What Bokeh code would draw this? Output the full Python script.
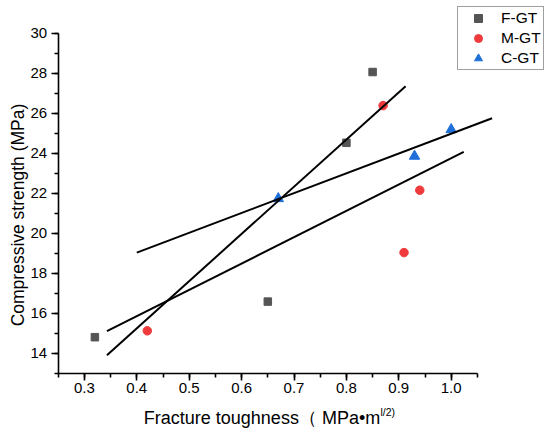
import math
from bokeh.plotting import figure
from bokeh.models import (Range1d, SingleIntervalTicker, NumeralTickFormatter,
                          Legend, LegendItem, Label)
from bokeh.embed import file_html
from bokeh.resources import INLINE

# ---- data ----
f_x = [0.32, 0.65, 0.80, 0.85]
f_y = [14.80, 16.58, 24.52, 28.06]
m_x = [0.42, 0.87, 0.91, 0.94]
m_y = [15.12, 26.38, 19.03, 22.15]
c_x = [0.67, 0.93, 1.00]
c_y = [21.73, 23.85, 25.18]

# fitted straight lines (start/end as drawn in the reference)
fit_x0 = [0.343, 0.343, 0.400]
fit_y0 = [13.90, 15.10, 19.03]
fit_x1 = [0.913, 1.024, 1.078]
fit_y1 = [27.35, 24.07, 25.75]

series_names = ["F-GT", "M-GT", "C-GT"]
x_title = "Fracture toughness（ MPa•m"
x_title_sup = "l/2)"
y_title = "Compressive strength (MPa)"

x_lo, x_hi = 0.25, 1.05
y_lo, y_hi = 13, 30

FONT = "Liberation Sans"
W, H = 550, 435
# plot-area geometry (pixels): axis corner and scale
ax_left, ax_bottom = 57.7, 372.7
px_per_x = 524.0
px_per_y = 20.0

p = figure(width=W, height=H, output_backend="svg", toolbar_location=None,
           x_range=Range1d(x_lo - ax_left / px_per_x,
                           x_lo + (W - ax_left) / px_per_x),
           y_range=Range1d(y_lo - (H - ax_bottom) / px_per_y,
                           y_lo + ax_bottom / px_per_y),
           min_border=0)
p.outline_line_color = None
p.xgrid.visible = False
p.ygrid.visible = False
p.background_fill_color = "white"
p.border_fill_color = "white"

p.xaxis.fixed_location = y_lo
p.yaxis.fixed_location = x_lo
p.xaxis.bounds = (x_lo - 1e-4, x_hi + 1e-4)
p.yaxis.bounds = (y_lo - 1e-4, y_hi + 1e-4)

p.xaxis.ticker = SingleIntervalTicker(interval=0.1, num_minor_ticks=2)
p.yaxis.ticker = SingleIntervalTicker(interval=2, num_minor_ticks=2)
p.xaxis.formatter = NumeralTickFormatter(format="0.0")
p.yaxis.formatter = NumeralTickFormatter(format="0")
for ax in (p.xaxis, p.yaxis):
    ax.axis_line_width = 1.6
    ax.axis_line_color = "black"
    ax.major_tick_line_width = 1.6
    ax.minor_tick_line_width = 1.6
    ax.major_tick_line_color = "black"
    ax.minor_tick_line_color = "black"
    ax.major_tick_in = 0
    ax.major_tick_out = 7
    ax.minor_tick_in = 0
    ax.minor_tick_out = 4
    ax.major_label_text_font = FONT
    ax.major_label_text_font_size = "15px"
    ax.major_label_text_color = "black"
p.xaxis.major_label_standoff = 3
p.yaxis.major_label_standoff = 4

r_f = p.scatter(f_x, f_y, marker="square", size=7.5, fill_color="#555555",
                line_color="#555555")
r_m = p.scatter(m_x, m_y, marker="circle", size=8.5, fill_color="#ee3a3c",
                line_color="#ee3a3c")
r_c = p.scatter(c_x, c_y, marker="triangle", size=10.5, fill_color="#1f6fd9",
                line_color="#1f6fd9")

p.segment(x0=fit_x0, y0=fit_y0, x1=fit_x1, y1=fit_y1, line_color="black",
          line_width=2)

legend = Legend(items=[LegendItem(label=series_names[0], renderers=[r_f]),
                       LegendItem(label=series_names[1], renderers=[r_m]),
                       LegendItem(label=series_names[2], renderers=[r_c])],
                location=(457, 365), padding=1, spacing=0, margin=0,
                title_standoff=0,
                glyph_width=38, glyph_height=20, label_standoff=4,
                label_width=41, label_height=20,
                label_text_font=FONT, label_text_font_size="15.5px",
                label_text_color="black",
                border_line_color="#404040", border_line_width=1,
                background_fill_color="white", background_fill_alpha=1)
p.add_layout(legend, "center")

p.add_layout(Label(x=17.5, y=H - 214.5, x_units="screen", y_units="screen",
                   text=y_title, angle=math.pi / 2, text_align="center",
                   text_baseline="middle", text_font=FONT,
                   text_font_size="17.5px", text_color="black"))
p.add_layout(Label(x=143.3, y=H - 417.5, x_units="screen", y_units="screen",
                   text=x_title, text_align="left",
                   text_baseline="middle", text_font=FONT,
                   text_font_size="18px", text_color="black"))
p.add_layout(Label(x=380, y=H - 411, x_units="screen", y_units="screen",
                   text=x_title_sup, text_align="left",
                   text_baseline="middle", text_font=FONT,
                   text_font_size="10.5px", text_color="black"))

open("out.html", "w").write(file_html(p, INLINE))
